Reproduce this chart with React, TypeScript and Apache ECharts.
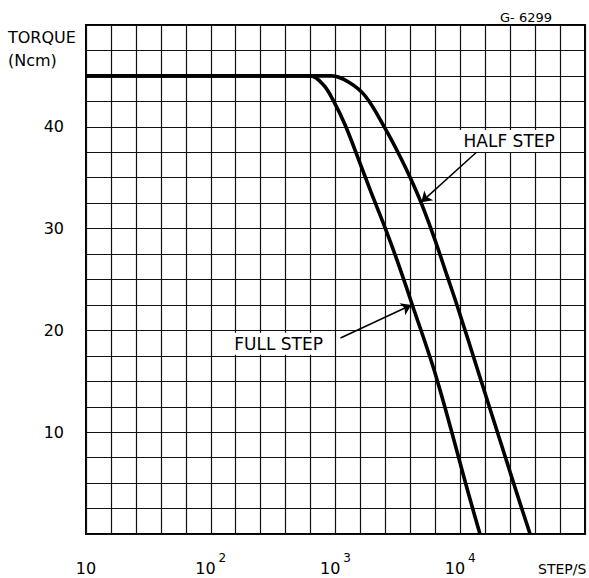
import React, { useEffect, useRef } from "react";
import * as echarts from "echarts";

// Data
const fullStepFreq = [10, 400, 631, 802, 964, 1202, 1585, 1923, 2512, 3133, 4130, 6427, 11860, 14390];
const fullStepTorque = [45, 45, 45, 44.1, 42.55, 40.1, 36.3, 33.6, 30, 26.8, 22.5, 15.4, 3.6, 0];

const halfStepFreq = [10, 600, 929, 1271, 1738, 2512, 3133, 3908, 4875, 6310, 7727, 9462, 14390, 29110, 36310];
const halfStepTorque = [45, 45, 45, 44.4, 43.0, 39.8, 37.6, 35.2, 32.5, 28.8, 25.6, 22.4, 15.4, 3.6, 0];

const yTickLabels = [10, 20, 30, 40];
const xDecades = [10, 100, 1000, 10000];

// annotations: label position, arrow tail, arrow head (frequency, torque)
const halfStepNote = { text: "HALF STEP", at: [24660, 38.6], from: [13490, 37.5], to: [4875, 32.6] };
const fullStepNote = { text: "FULL STEP", at: [350, 18.7], from: [1096, 19.25], to: [4055, 22.5] };

const FONT = "'DejaVu Sans', 'Liberation Sans', sans-serif";

function pairs(xs: number[], ys: number[]) {
  return xs.map((x, i) => [x, ys[i]]);
}

function noteMarks(note: { text: string; at: number[]; from: number[]; to: number[] }) {
  return {
    markLine: {
      silent: true,
      symbol: ["none", "arrow"],
      symbolSize: 10,
      label: { show: false },
      lineStyle: { color: "#000", width: 1.5, type: "solid" },
      data: [[{ coord: note.from }, { coord: note.to }]],
    },
    markPoint: {
      silent: true,
      symbol: "rect",
      symbolSize: 1,
      itemStyle: { color: "rgba(0,0,0,0)" },
      label: {
        show: true,
        position: "inside",
        formatter: note.text,
        color: "#000",
        fontFamily: FONT,
        fontSize: 17,
        backgroundColor: "#fff",
        padding: [3, 5, 2, 5],
      },
      data: [{ coord: note.at }],
    },
  };
}

export default function App() {
  const ref = useRef<HTMLDivElement>(null);

  useEffect(() => {
    if (!ref.current) return;
    const chart = echarts.init(ref.current, undefined, { renderer: "svg" });
    const gridColor = "#111";
    const option: any = {
      animation: false,
      backgroundColor: "#fff",
      grid: {
        left: 86,
        top: 25,
        right: 4,
        bottom: 44,
        show: true,
        borderColor: "#000",
        borderWidth: 2,
        backgroundColor: "#fff",
      },
      xAxis: [
        {
          type: "log",
          logBase: 10,
          min: 10,
          max: 100000,
          axisLine: { show: false },
          axisTick: { show: false },
          splitLine: { show: false },
          axisLabel: {
            margin: 18,
            color: "#000",
            formatter: (v: number) => {
              if (!xDecades.includes(v)) return "";
              const p = Math.round(Math.log10(v));
              return p === 1 ? "{b|10}" : "{b|10}{s|" + p + "}";
            },
            rich: {
              b: { fontFamily: FONT, fontSize: 16, color: "#000", verticalAlign: "bottom", lineHeight: 24 },
              s: { fontFamily: FONT, fontSize: 12, color: "#000", verticalAlign: "top", padding: [0, 0, 0, 3] },
            },
          },
        },
        {
          type: "value",
          min: 0,
          max: 20,
          interval: 1,
          position: "top",
          axisLine: { show: false },
          axisTick: { show: false },
          axisLabel: { show: false },
          splitLine: { show: true, lineStyle: { color: gridColor, width: 1.2 } },
        },
      ],
      yAxis: {
        type: "value",
        min: 0,
        max: 50,
        interval: 2.5,
        axisLine: { show: false },
        axisTick: { show: false },
        splitLine: { show: true, lineStyle: { color: gridColor, width: 1.2 } },
        axisLabel: {
          margin: 22,
          color: "#000",
          fontFamily: FONT,
          fontSize: 16,
          formatter: (v: number) => (yTickLabels.includes(v) ? String(v) : ""),
        },
      },
      graphic: [
        {
          type: "text",
          left: 8,
          top: 26,
          style: {
            text: "TORQUE\n(Ncm)",
            fill: "#000",
            font: "16px " + FONT,
            lineHeight: 23,
            align: "center",
          },
        },
        {
          type: "text",
          left: 538,
          top: 562,
          style: { text: "STEP/S", fill: "#000", font: "14px " + FONT },
        },
        {
          type: "text",
          left: 500,
          top: 11,
          style: { text: "G- 6299", fill: "#000", font: "13px " + FONT },
        },
      ],
      series: [
        {
          name: "FULL STEP",
          type: "line",
          xAxisIndex: 0,
          data: pairs(fullStepFreq, fullStepTorque),
          smooth: 0.35,
          showSymbol: false,
          symbol: "none",
          lineStyle: { color: "#000", width: 3.6 },
          z: 5,
          ...noteMarks(fullStepNote),
        },
        {
          name: "HALF STEP",
          type: "line",
          xAxisIndex: 0,
          data: pairs(halfStepFreq, halfStepTorque),
          smooth: 0.35,
          showSymbol: false,
          symbol: "none",
          lineStyle: { color: "#000", width: 3.6 },
          z: 5,
          ...noteMarks(halfStepNote),
        },
      ],
    };
    chart.setOption(option);
    return () => chart.dispose();
  }, []);

  return (
    <div
      ref={ref}
      style={{ position: "fixed", left: 0, top: 0, width: 589, height: 578, background: "#fff" }}
    />
  );
}
